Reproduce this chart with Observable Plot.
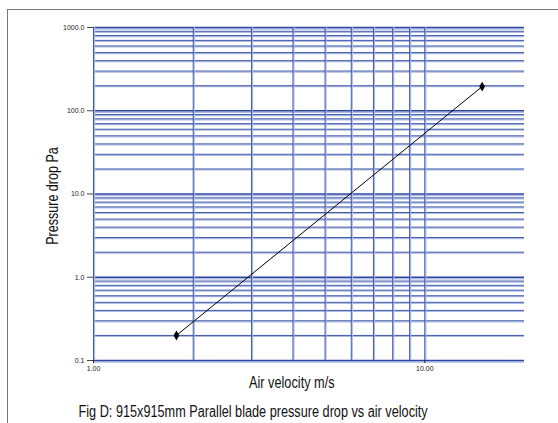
<!DOCTYPE html>
<html><head><meta charset="utf-8">
<script src="https://cdn.jsdelivr.net/npm/d3@7"></script>
<script src="https://cdn.jsdelivr.net/npm/@observablehq/plot@0.6"></script>
<style>
body{margin:0;background:#fff;font-family:"Liberation Sans",sans-serif;}
#wrap{position:relative;width:558px;height:423px;overflow:hidden;}
#frame{position:absolute;left:7px;top:9px;width:700px;height:600px;border-left:1.5px solid #777;border-top:1.5px solid #777;}
#chart{position:absolute;left:0;top:0;}
.lbl{position:absolute;color:#111;white-space:nowrap;font-family:"Liberation Sans",Arial,sans-serif;font-size:16px;line-height:1;}
</style></head>
<body>
<div id="wrap"><div id="frame"></div><div id="chart"></div>
<div class="lbl" id="ylab" data-cx="53" data-cy="196" data-w="98" data-rot="1">Pressure drop Pa</div>
<div class="lbl" id="xlab" data-cx="292" data-cy="383" data-w="86">Air velocity m/s</div>
<div class="lbl" id="cap" data-cx="252.5" data-cy="412" data-w="349">Fig D: 915x915mm Parallel blade pressure drop vs air velocity</div>
</div>
<script>
const velocity = [1.78, 14.9];
const pressure = [0.2, 195];
const xGrid = [1, 2, 3, 4, 5, 6, 7, 8, 9, 10];
const yMajor = [0.1, 1, 10, 100, 1000];
const yMinor = [0.2,0.3,0.4,0.5,0.6,0.7,0.8,0.9, 2,3,4,5,6,7,8,9, 20,30,40,50,60,70,80,90, 200,300,400,500,600,700,800,900];
const xTicks = [1, 10];
const yTicks = [0.1, 1, 10, 100, 1000];

const data = velocity.map((v, i) => ({v, p: pressure[i]}));
const dark = "#2c47a3", light = "#aebbe0";

const plot = Plot.plot({
  width: 558, height: 423,
  marginLeft: 93, marginRight: 34, marginTop: 27, marginBottom: 63,
  style: {fontFamily: "'Liberation Sans', Arial, sans-serif", fontSize: "7px", color: "#222", background: "transparent"},
  x: {type: "log", domain: [1, 20], label: null, axis: null},
  y: {type: "log", domain: [0.1, 1000], label: null, axis: null},
  marks: [
    Plot.ruleY(yMinor, {stroke: light, strokeWidth: 1.2, dy: 1}),
    Plot.ruleY(yMinor, {stroke: dark, strokeWidth: 0.9}),
    Plot.ruleY(yMajor, {stroke: light, strokeWidth: 1.5, dy: 1.5}),
    Plot.ruleY(yMajor, {stroke: dark, strokeWidth: 1.6}),
    Plot.ruleX(xGrid, {y1: 0.1, y2: 1000, stroke: light, strokeWidth: 1.2, dx: 1}),
    Plot.ruleX(xGrid, {y1: 0.1, y2: 1000, stroke: dark, strokeWidth: 0.9}),
    Plot.axisX({ticks: xTicks, tickFormat: d3.format(".2f"), tickSize: 3, tickPadding: 3, stroke: "#222", label: null}),
    Plot.axisY({ticks: yTicks, tickFormat: d3.format(".1f"), tickSize: 6, tickPadding: 3, stroke: "#444", label: null}),
    Plot.line(data, {x: "v", y: "p", stroke: "#000", strokeWidth: 1}),
    Plot.dot(data, {x: "v", y: "p", symbol: "diamond", r: 3, fill: "#000"})
  ]
});
document.getElementById("chart").appendChild(plot);

document.querySelectorAll(".lbl").forEach(el => {
  const w = el.offsetWidth, h = el.offsetHeight;
  const s = (+el.dataset.w) / w;
  el.style.left = (+el.dataset.cx - w / 2) + "px";
  el.style.top = (+el.dataset.cy - h / 2) + "px";
  el.style.transform = (el.dataset.rot ? "rotate(-90deg) " : "") + `scaleX(${s})`;
});
</script>
</body></html>
